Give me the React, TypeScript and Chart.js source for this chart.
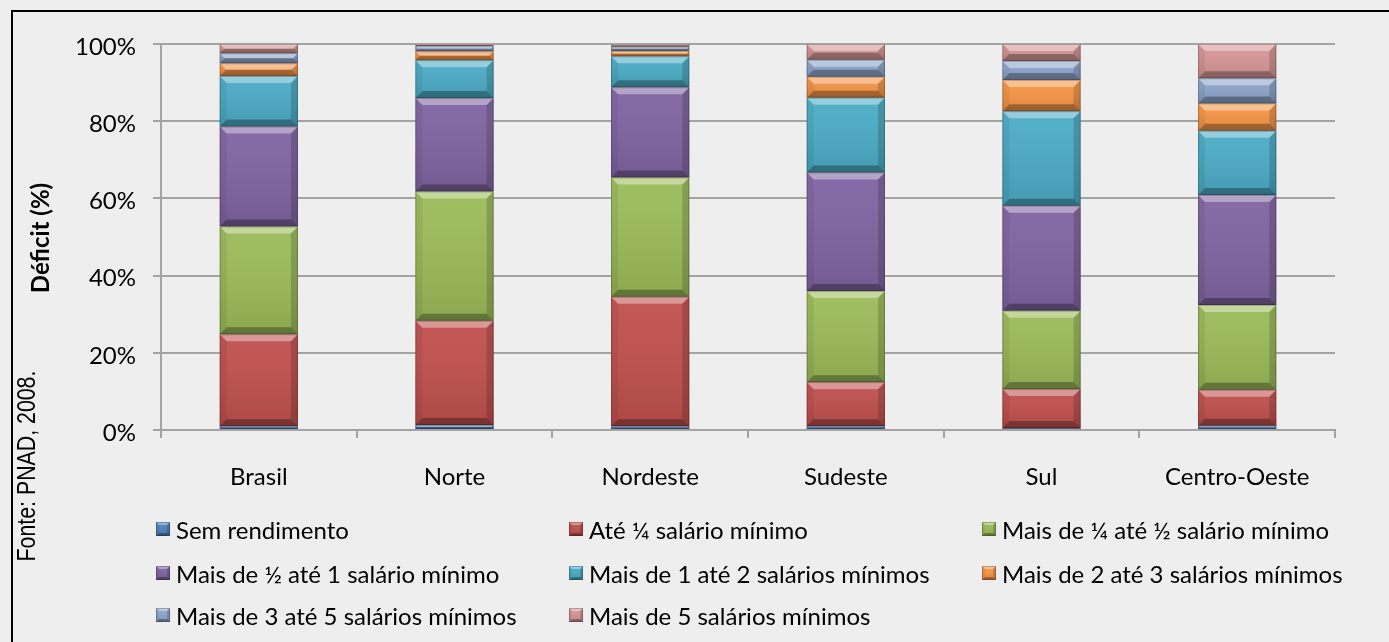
import React, { useEffect, useRef } from "react";
import { Chart, registerables } from "chart.js";

Chart.register(...registerables);

// ---- data ----
const categories = ["Brasil", "Norte", "Nordeste", "Sudeste", "Sul", "Centro-Oeste"];
const seriesNames = [
  "Sem rendimento",
  "Até ¼ salário mínimo",
  "Mais de ¼ até ½ salário mínimo",
  "Mais de ½ até 1 salário mínimo",
  "Mais de 1 até 2 salários mínimos",
  "Mais de 2 até 3 salários mínimos",
  "Mais de 3 até 5 salários mínimos",
  "Mais de 5 salários mínimos",
];
const semRendimento = [1.0, 1.3, 1.0, 1.0, 0.5, 1.1];
const ateUmQuarto = [23.8, 27.0, 33.5, 11.4, 10.1, 9.3];
const quartoAteMeio = [27.9, 33.5, 30.9, 23.6, 20.3, 22.0];
const meioAteUm = [25.9, 24.2, 23.4, 30.7, 27.2, 28.5];
const umAteDois = [13.1, 9.8, 8.0, 19.4, 24.5, 16.6];
const doisAteTres = [3.3, 2.3, 1.4, 5.4, 8.1, 7.1];
const tresAteCinco = [2.6, 1.4, 1.1, 4.4, 4.9, 6.5];
const maisDeCinco = [2.4, 0.5, 0.7, 4.1, 4.4, 8.9];
const seriesValues = [
  semRendimento,
  ateUmQuarto,
  quartoAteMeio,
  meioAteUm,
  umAteDois,
  doisAteTres,
  tresAteCinco,
  maisDeCinco,
];
const yTickValues = [0, 20, 40, 60, 80, 100];
const yAxisTitle = "Déficit (%)";
const sourceNote = "Fonte: PNAD, 2008.";

// ---- styles ----
const seriesColors = [
  "#4f81bd",
  "#c0504d",
  "#9bbb59",
  "#8064a2",
  "#4bacc6",
  "#f79646",
  "#8ea6cc",
  "#d69796",
];
const FONT = "Lato";
const GRID = "#a3a3a3";

function poly(ctx: CanvasRenderingContext2D, pts: number[][], fill: string) {
  ctx.beginPath();
  ctx.moveTo(pts[0][0], pts[0][1]);
  for (let i = 1; i < pts.length; i++) ctx.lineTo(pts[i][0], pts[i][1]);
  ctx.closePath();
  ctx.fillStyle = fill;
  ctx.fill();
}

function bevel(ctx: CanvasRenderingContext2D, l: number, t: number, r: number, b: number, size: number) {
  const w = r - l;
  const h = b - t;
  if (h <= 0 || w <= 0) return;
  const bv = Math.max(0, Math.min(size, h / 2, w / 2));
  ctx.save();
  const g = ctx.createLinearGradient(0, t, 0, b);
  g.addColorStop(0, "rgba(255,255,255,0.05)");
  g.addColorStop(1, "rgba(0,0,0,0.10)");
  ctx.fillStyle = g;
  ctx.fillRect(l, t, w, h);
  poly(ctx, [[l, t], [r, t], [r - bv, t + bv], [l + bv, t + bv]], "rgba(255,255,255,0.38)");
  poly(ctx, [[l, b], [r, b], [r - bv, b - bv], [l + bv, b - bv]], "rgba(0,0,0,0.30)");
  poly(ctx, [[l, t], [l + bv, t + bv], [l + bv, b - bv], [l, b]], "rgba(0,0,0,0.06)");
  poly(ctx, [[r, t], [r - bv, t + bv], [r - bv, b - bv], [r, b]], "rgba(0,0,0,0.16)");
  ctx.strokeStyle = "rgba(0,0,0,0.22)";
  ctx.lineWidth = 1;
  ctx.strokeRect(l + 0.5, t + 0.5, w - 1, h - 1);
  ctx.restore();
}

const decorPlugin = {
  id: "decor",
  beforeDraw(chart: any) {
    const ctx = chart.ctx as CanvasRenderingContext2D;
    ctx.save();
    ctx.fillStyle = "#eeeeee";
    ctx.fillRect(0, 0, chart.width, chart.height);
    ctx.fillStyle = "#000";
    ctx.fillRect(11, 10, 2, chart.height - 10);
    ctx.fillRect(11, 10, chart.width - 11, 2);
    ctx.restore();
  },
  afterDatasetsDraw(chart: any) {
    const ctx = chart.ctx as CanvasRenderingContext2D;
    chart.data.datasets.forEach((_: any, di: number) => {
      const meta = chart.getDatasetMeta(di);
      meta.data.forEach((el: any) => {
        const p = el.getProps(["x", "y", "base", "width"], true);
        const l = p.x - p.width / 2;
        const r = p.x + p.width / 2;
        const t = Math.min(p.y, p.base);
        const b = Math.max(p.y, p.base);
        bevel(ctx, l, t, r, b, 7);
      });
    });
  },
  afterDraw(chart: any) {
    const ctx = chart.ctx as CanvasRenderingContext2D;
    const area = chart.chartArea;
    ctx.save();
    // y axis title
    ctx.translate(49, (area.top + area.bottom) / 2 + 1);
    ctx.rotate(-Math.PI / 2);
    ctx.font = `bold 24px ${FONT}`;
    ctx.fillStyle = "#000";
    ctx.textAlign = "center";
    ctx.textBaseline = "alphabetic";
    ctx.fillText(yAxisTitle, 0, 0);
    ctx.restore();

    // source note (narrow)
    ctx.save();
    ctx.font = `26px "Liberation Sans Narrow", "Liberation Sans"`;
    const wN = ctx.measureText(sourceNote).width;
    ctx.font = `26px "Liberation Sans"`;
    const wR = ctx.measureText(sourceNote).width;
    let sx = 1;
    if (Math.abs(wN - wR) < 1) sx = 0.82;
    else ctx.font = `26px "Liberation Sans Narrow", "Liberation Sans"`;
    ctx.translate(35, 466);
    ctx.rotate(-Math.PI / 2);
    ctx.scale(sx, 1);
    ctx.fillStyle = "#000";
    ctx.textAlign = "center";
    ctx.textBaseline = "alphabetic";
    ctx.fillText(sourceNote, 0, 0);
    ctx.restore();

    // legend (3 columns)
    const colX = [156, 569, 982];
    const rowY = [539, 583, 625];
    ctx.save();
    ctx.font = `24px ${FONT}`;
    ctx.textAlign = "left";
    ctx.textBaseline = "alphabetic";
    seriesNames.forEach((name, i) => {
      const c = i % 3;
      const rr = Math.floor(i / 3);
      const bx = colX[c];
      const by = rowY[rr] - 17;
      ctx.fillStyle = seriesColors[i];
      ctx.fillRect(bx, by, 14, 14);
      bevel(ctx, bx, by, bx + 14, by + 14, 3);
      ctx.fillStyle = "#000";
      ctx.fillText(name, bx + 20, rowY[rr]);
    });
    ctx.restore();
  },
};

export default function App() {
  const ref = useRef<HTMLCanvasElement>(null);
  useEffect(() => {
    const canvas = ref.current;
    if (!canvas) return;
    const chart = new Chart(canvas, {
      type: "bar",
      data: {
        labels: categories,
        datasets: seriesNames.map((name, i) => ({
          label: name,
          data: seriesValues[i],
          backgroundColor: seriesColors[i],
          borderWidth: 0,
          barPercentage: 0.4,
          categoryPercentage: 1.0,
        })),
      },
      options: {
        responsive: false,
        animation: false,
        devicePixelRatio: 1,
        layout: { padding: { left: 0, top: 44, right: 54, bottom: 152 } },
        plugins: {
          legend: { display: false },
          tooltip: { enabled: false },
          title: { display: false },
        },
        scales: {
          x: {
            stacked: true,
            grid: {
              drawOnChartArea: false,
              drawTicks: true,
              tickLength: 8,
              color: GRID,
              lineWidth: 2,
              offset: true,
            },
            border: { display: true, color: GRID, width: 2 },
            ticks: {
              font: { family: FONT, size: 24 },
              color: "#000",
              padding: 25,
              maxRotation: 0,
              autoSkip: false,
            },
            afterFit: (s: any) => {
              s.height = 60;
            },
          },
          y: {
            stacked: true,
            min: yTickValues[0],
            max: yTickValues[yTickValues.length - 1],
            afterBuildTicks: (s: any) => {
              s.ticks = yTickValues.map((v) => ({ value: v }));
            },
            ticks: {
              callback: (v: any) => `${v}%`,
              font: { family: FONT, size: 24 },
              color: "#000",
              padding: 17,
              labelOffset: 3,
            },
            grid: { color: GRID, lineWidth: 2, tickLength: 8 },
            border: { display: true, color: GRID, width: 2 },
            afterFit: (s: any) => {
              s.width = 161;
            },
          },
        },
      } as any,
      plugins: [decorPlugin],
    });
    return () => chart.destroy();
  }, []);
  return (
    <div
      style={{
        position: "fixed",
        left: 0,
        top: 0,
        width: 1389,
        height: 642,
        background: "#eeeeee",
      }}
    >
      <canvas ref={ref} width={1389} height={642} style={{ display: "block", width: 1389, height: 642 }} />
    </div>
  );
}
